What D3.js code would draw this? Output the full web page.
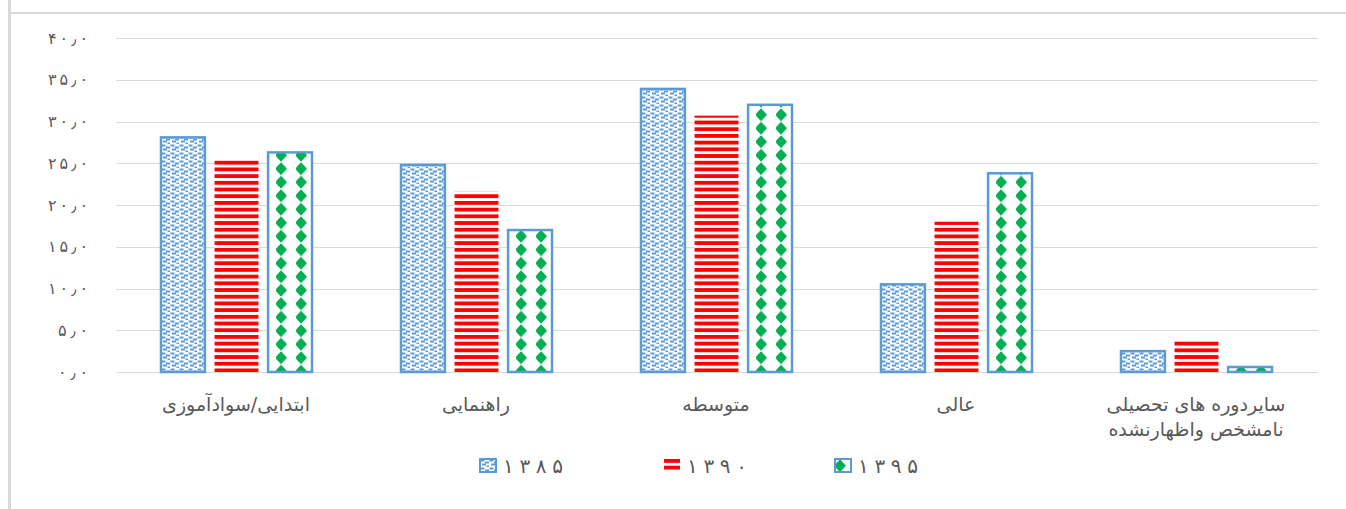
<!DOCTYPE html>
<html>
<head>
<meta charset="utf-8">
<script src="https://cdn.jsdelivr.net/npm/d3@7"></script>
<style>
  body { margin: 0; background: #fff; }
  svg { display: block; font-family: "DejaVu Sans", sans-serif; }
</style>
</head>
<body>
<div id="chart"></div>
<script>
// data
var categories = ["ابتدایی/سوادآموزی", "راهنمایی", "متوسطه", "عالی", "سایردوره های تحصیلی|نامشخص واظهارنشده"];
var years = ["۱۳۸۵", "۱۳۹۰", "۱۳۹۵"];
var values1385 = [28.1, 24.8, 33.9, 10.5, 2.5];
var values1390 = [25.4, 21.6, 30.7, 18.0, 3.8];
var values1395 = [26.3, 17.0, 32.0, 23.8, 0.6];
var yTicks = [0, 5, 10, 15, 20, 25, 30, 35, 40];

var series = [values1385, values1390, values1395];
var fa = "۰۱۲۳۴۵۶۷۸۹";
function toFa(s) { return String(s).replace(/[0-9]/g, function(c) { return fa[+c]; }).replace(".", "٫"); }

var W = 1346, H = 509;
var svg = d3.select("#chart").append("svg").attr("width", W).attr("height", H);

// patterns
var defs = svg.append("defs");
var pBlue = defs.append("pattern").attr("id", "p1385").attr("patternUnits", "userSpaceOnUse")
  .attr("width", 9).attr("height", 8);
pBlue.append("rect").attr("width", 9).attr("height", 8).attr("fill", "#fff");
[[0.5,0.5],[5,2.5],[2,4.5],[6.5,6.5]].forEach(function(p) {
  pBlue.append("rect").attr("x", p[0]).attr("y", p[1]).attr("width", 4).attr("height", 2).attr("fill", "#5b9bd5");
});
var pRed = defs.append("pattern").attr("id", "p1390").attr("patternUnits", "userSpaceOnUse")
  .attr("width", 10).attr("height", 6.7);
pRed.append("rect").attr("width", 10).attr("height", 6.7).attr("fill", "#fff");
pRed.append("rect").attr("y", 0).attr("width", 10).attr("height", 3.8).attr("fill", "#ff0000");
var pGreen = defs.append("pattern").attr("id", "p1395").attr("patternUnits", "userSpaceOnUse")
  .attr("width", 20).attr("height", 13.5);
pGreen.append("rect").attr("width", 20).attr("height", 13.5).attr("fill", "#fff");
function diamond(cx, cy) {
  return "M" + cx + "," + (cy - 6.5) + "L" + (cx + 6) + "," + cy +
    "L" + cx + "," + (cy + 6.5) + "L" + (cx - 6) + "," + cy + "Z";
}
pGreen.append("path").attr("d", diamond(5, 6.75)).attr("fill", "#00b050");
pGreen.append("circle").attr("cx", 5).attr("cy", 6.75).attr("r", 4.2).attr("fill", "#00b050");
var fills = ["url(#p1385)", "url(#p1390)", "url(#p1395)"];
var strokes = ["#5b9bd5", "none", "#5b9bd5"];

// frame
svg.append("line").attr("x1", 9.5).attr("x2", 9.5).attr("y1", 0).attr("y2", H)
  .attr("stroke", "#d9d9d9").attr("stroke-width", 3);
svg.append("line").attr("x1", 9).attr("x2", W).attr("y1", 13).attr("y2", 13)
  .attr("stroke", "#d9d9d9").attr("stroke-width", 2);

// scales
var x0 = d3.scaleBand().domain(categories).range([116, 1316]);
var x1 = d3.scaleBand().domain(years).range([45, 196]).paddingInner(0.18);
var y = d3.scaleLinear().domain([0, 40]).range([372, 38]);

// grid
svg.append("g").selectAll("line").data(yTicks).enter().append("line")
  .attr("x1", 116).attr("x2", 1318)
  .attr("y1", function(d) { return Math.round(y(d)) + 0.5; })
  .attr("y2", function(d) { return Math.round(y(d)) + 0.5; })
  .attr("stroke", "#d9d9d9").attr("stroke-width", 1);

// y axis
var yAxis = svg.append("g").attr("transform", "translate(92,0)")
  .call(d3.axisLeft(y).tickValues(yTicks).tickSize(0).tickPadding(4).tickFormat(function(d) { return toFa(d.toFixed(1)); }));
yAxis.select(".domain").remove();
yAxis.selectAll("text").attr("fill", "#595959").style("font-size", "16px")
  .style("font-family", "DejaVu Sans")
  .attr("lengthAdjust", "spacing")
  .attr("textLength", function(d) { return toFa(d.toFixed(1)).length * 10; });

// bars
var groups = svg.append("g").selectAll("g").data(categories).enter().append("g")
  .attr("transform", function(d) { return "translate(" + x0(d) + ",0)"; });
groups.selectAll("rect").data(function(d, i) {
  return years.map(function(yr, k) { return {year: yr, k: k, v: series[k][i]}; });
}).enter().append("rect")
  .attr("x", function(d) { return x1(d.year); })
  .attr("width", x1.bandwidth())
  .attr("y", function(d) { return y(d.v); })
  .attr("height", function(d) { return y(0) - y(d.v); })
  .attr("fill", function(d) { return fills[d.k]; })
  .attr("stroke", function(d) { return strokes[d.k]; })
  .attr("stroke-width", 2.5);

// category labels
var lab = svg.append("g").selectAll("text").data(categories).enter().append("text")
  .attr("x", function(d) { return x0(d) + x0.bandwidth() / 2; })
  .attr("y", 411)
  .attr("text-anchor", "middle")
  .attr("direction", "rtl")
  .attr("fill", "#595959")
  .style("font-size", "19px");
lab.each(function(d) {
  var parts = d.split("|");
  var t = d3.select(this);
  parts.forEach(function(p, i) {
    t.append("tspan").attr("x", x0(d) + x0.bandwidth() / 2).attr("dy", i ? 25 : 0).text(p);
  });
});

// legend
var legX = [480, 664, 835];
var leg = svg.append("g").selectAll("g").data(years).enter().append("g")
  .attr("transform", function(d, i) { return "translate(" + legX[i] + ",459)"; });
leg.append("rect").attr("width", 16).attr("height", 13)
  .attr("fill", function(d, i) { return fills[i]; })
  .attr("stroke", function(d, i) { return strokes[i]; })
  .attr("stroke-width", 2);
leg.append("text").attr("x", 23).attr("y", 14).attr("fill", "#595959")
  .style("font-size", "20px")
  .attr("lengthAdjust", "spacing").attr("textLength", 60)
  .text(function(d) { return d; });
</script>
</body>
</html>
